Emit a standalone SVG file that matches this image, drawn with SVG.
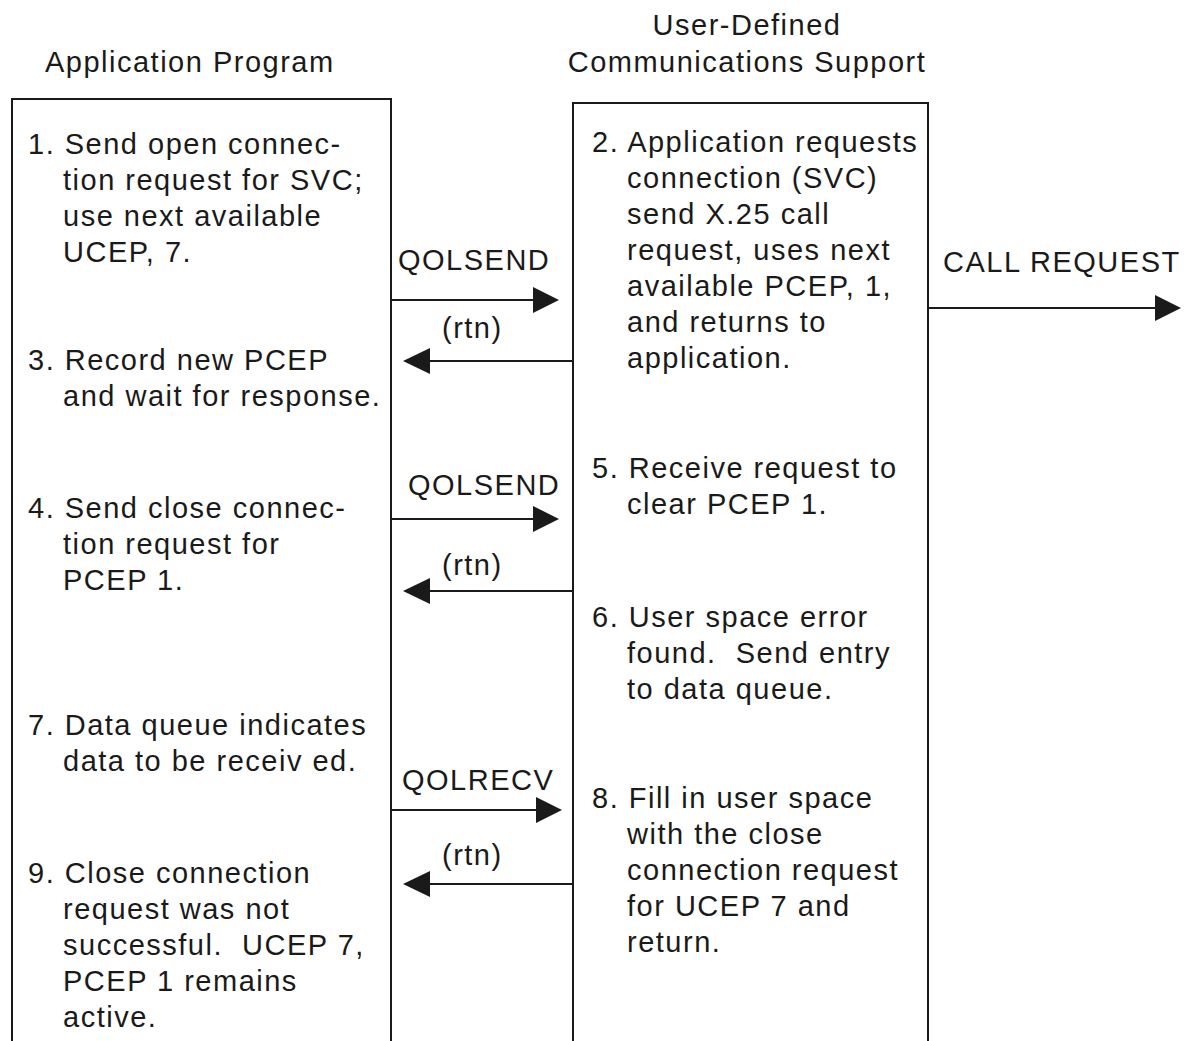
<svg xmlns="http://www.w3.org/2000/svg" width="1194" height="1041" viewBox="0 0 1194 1041" xml:space="preserve">
<style>
text{font-family:"Liberation Sans",Arial,sans-serif;font-size:29px;fill:#1a1a1a;letter-spacing:1.5px;white-space:pre}
.box{fill:none;stroke:#1a1a1a;stroke-width:2}
.ln{stroke:#1a1a1a;stroke-width:2;fill:none}
.hd{fill:#1a1a1a}
</style>
<rect width="1194" height="1041" fill="#fff"/>
<g id="titles">
<text x="45" y="72">Application Program</text>
<text x="747" y="35" text-anchor="middle">User-Defined</text>
<text x="747" y="72" text-anchor="middle">Communications Support</text>
</g>
<g id="app">
<path class="box" d="M12,1041 V99 H391 V1041"/>
<text x="28" y="154">1. Send open connec-</text>
<text x="63" y="190">tion request for SVC;</text>
<text x="63" y="226">use next available</text>
<text x="63" y="262">UCEP, 7.</text>
<text x="28" y="370">3. Record new PCEP</text>
<text x="63" y="406">and wait for response.</text>
<text x="28" y="518">4. Send close connec-</text>
<text x="63" y="554">tion request for</text>
<text x="63" y="590">PCEP 1.</text>
<text x="28" y="735">7. Data queue indicates</text>
<text x="63" y="771">data to be receiv ed.</text>
<text x="28" y="883">9. Close connection</text>
<text x="63" y="919">request was not</text>
<text x="63" y="955">successful.  UCEP 7,</text>
<text x="63" y="991">PCEP 1 remains</text>
<text x="63" y="1027">active.</text>
</g>
<g id="udc">
<path class="box" d="M573,1041 V103 H928 V1041"/>
<text x="592" y="152">2. Application requests</text>
<text x="627" y="188">connection (SVC)</text>
<text x="627" y="224">send X.25 call</text>
<text x="627" y="260">request, uses next</text>
<text x="627" y="296">available PCEP, 1,</text>
<text x="627" y="332">and returns to</text>
<text x="627" y="368">application.</text>
<text x="592" y="478">5. Receive request to</text>
<text x="627" y="514">clear PCEP 1.</text>
<text x="592" y="627">6. User space error</text>
<text x="627" y="663">found.  Send entry</text>
<text x="627" y="699">to data queue.</text>
<text x="592" y="808">8. Fill in user space</text>
<text x="627" y="844">with the close</text>
<text x="627" y="880">connection request</text>
<text x="627" y="916">for UCEP 7 and</text>
<text x="627" y="952">return.</text>
</g>
<g id="connectors">
<line class="ln" x1="391" y1="300" x2="535" y2="300"/>
<path class="hd" d="M533,287 L559,300 L533,313 Z"/>
<text x="398" y="270">QOLSEND</text>
<line class="ln" x1="573" y1="361" x2="428" y2="361"/>
<path class="hd" d="M430,348 L403,361 L430,374 Z"/>
<text x="442" y="338">(rtn)</text>
<line class="ln" x1="391" y1="519" x2="535" y2="519"/>
<path class="hd" d="M533,506 L559,519 L533,532 Z"/>
<text x="408" y="495">QOLSEND</text>
<line class="ln" x1="573" y1="591" x2="428" y2="591"/>
<path class="hd" d="M430,578 L403,591 L430,604 Z"/>
<text x="442" y="575">(rtn)</text>
<line class="ln" x1="391" y1="810" x2="538" y2="810"/>
<path class="hd" d="M536,797 L562,810 L536,823 Z"/>
<text x="402" y="790">QOLRECV</text>
<line class="ln" x1="573" y1="884" x2="428" y2="884"/>
<path class="hd" d="M430,871 L403,884 L430,897 Z"/>
<text x="442" y="865">(rtn)</text>
<line class="ln" x1="928" y1="308" x2="1158" y2="308"/>
<path class="hd" d="M1155,295 L1181,308 L1155,321 Z"/>
<text x="943" y="272">CALL REQUEST</text>
</g>
</svg>
